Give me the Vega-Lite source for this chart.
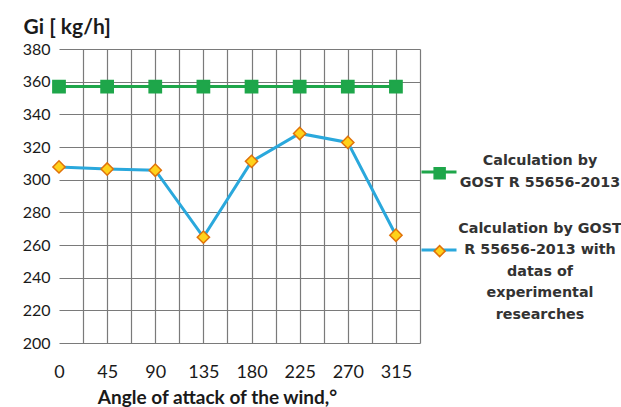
{
  "$schema": "https://vega.github.io/schema/vega-lite/v6.json",
  "width": 361,
  "height": 294,
  "autosize": {"type": "none"},
  "padding": {"left": 59, "top": 49, "right": 201, "bottom": 64},
  "background": "white",
  "config": {"view": {"stroke": null}, "font": "Lato"},
  "data": {
    "values": [
      {"angle": 0, "series": "Calculation by GOST R 55656-2013", "marker": "Calculation by GOST R 55656-2013", "value": 357},
      {"angle": 45, "series": "Calculation by GOST R 55656-2013", "marker": "Calculation by GOST R 55656-2013", "value": 357},
      {"angle": 90, "series": "Calculation by GOST R 55656-2013", "marker": "Calculation by GOST R 55656-2013", "value": 357},
      {"angle": 135, "series": "Calculation by GOST R 55656-2013", "marker": "Calculation by GOST R 55656-2013", "value": 357},
      {"angle": 180, "series": "Calculation by GOST R 55656-2013", "marker": "Calculation by GOST R 55656-2013", "value": 357},
      {"angle": 225, "series": "Calculation by GOST R 55656-2013", "marker": "Calculation by GOST R 55656-2013", "value": 357},
      {"angle": 270, "series": "Calculation by GOST R 55656-2013", "marker": "Calculation by GOST R 55656-2013", "value": 357},
      {"angle": 315, "series": "Calculation by GOST R 55656-2013", "marker": "Calculation by GOST R 55656-2013", "value": 357},
      {"angle": 0, "series": "Calculation by GOST R 55656-2013 with datas of experimental researches", "marker": "Calculation by GOST R 55656-2013 with datas of experimental researches", "value": 307.8},
      {"angle": 45, "series": "Calculation by GOST R 55656-2013 with datas of experimental researches", "marker": "Calculation by GOST R 55656-2013 with datas of experimental researches", "value": 306.5},
      {"angle": 90, "series": "Calculation by GOST R 55656-2013 with datas of experimental researches", "marker": "Calculation by GOST R 55656-2013 with datas of experimental researches", "value": 305.8},
      {"angle": 135, "series": "Calculation by GOST R 55656-2013 with datas of experimental researches", "marker": "Calculation by GOST R 55656-2013 with datas of experimental researches", "value": 264.8},
      {"angle": 180, "series": "Calculation by GOST R 55656-2013 with datas of experimental researches", "marker": "Calculation by GOST R 55656-2013 with datas of experimental researches", "value": 311.2},
      {"angle": 225, "series": "Calculation by GOST R 55656-2013 with datas of experimental researches", "marker": "Calculation by GOST R 55656-2013 with datas of experimental researches", "value": 328.3},
      {"angle": 270, "series": "Calculation by GOST R 55656-2013 with datas of experimental researches", "marker": "Calculation by GOST R 55656-2013 with datas of experimental researches", "value": 322.8},
      {"angle": 315, "series": "Calculation by GOST R 55656-2013 with datas of experimental researches", "marker": "Calculation by GOST R 55656-2013 with datas of experimental researches", "value": 266}
    ]
  },
  "encoding": {
    "x": {
      "field": "angle",
      "type": "quantitative",
      "scale": {"domain": [0, 337.5], "nice": false, "zero": false},
      "axis": {
        "values": [0, 22.5, 45, 67.5, 90, 112.5, 135, 157.5, 180, 202.5, 225, 247.5, 270, 292.5, 315, 337.5],
        "labelExpr": "datum.value % 45 == 0 && datum.value <= 315 ? datum.label : ''",
        "title": "Angle of attack of the wind,°",
        "grid": true,
        "gridColor": {"condition": {"test": "datum.value == 0", "value": "transparent"}, "value": "#7a7a7a"},
        "gridWidth": 1.2,
        "domain": false,
        "ticks": false,
        "labelPadding": 20,
        "labelFontSize": 18,
        "labelColor": "#1a1a1a",
        "labelFlush": false,
        "labelOverlap": false,
        "titleFontSize": 19,
        "titleFontWeight": "bold",
        "titleColor": "#1a1a1a",
        "titleX": 158,
        "titleY": 60,
        "titleAlign": "center",
        "titleBaseline": "alphabetic"
      }
    },
    "y": {
      "field": "value",
      "type": "quantitative",
      "scale": {"domain": [200, 380], "nice": false, "zero": false},
      "axis": {
        "values": [200, 220, 240, 260, 280, 300, 320, 340, 360, 380],
        "grid": true,
        "gridColor": "#7a7a7a",
        "gridWidth": 1.2,
        "domain": false,
        "ticks": false,
        "labelPadding": 9,
        "labelFontSize": 16,
        "labelColor": "#1a1a1a",
        "title": "Gi [ kg/h]",
        "titleAngle": 0,
        "titleAlign": "left",
        "titleBaseline": "alphabetic",
        "titleX": -36,
        "titleY": -16,
        "titleFontSize": 21,
        "titleFontWeight": "bold",
        "titleColor": "#1a1a1a"
      }
    }
  },
  "layer": [
    {
      "mark": {"type": "line", "strokeWidth": 3},
      "encoding": {
        "color": {
          "field": "series",
          "type": "nominal",
          "scale": {
            "domain": ["Calculation by GOST R 55656-2013", "Calculation by GOST R 55656-2013 with datas of experimental researches"],
            "range": ["#1ea64a", "#2aa8dc"]
          },
          "legend": {
            "orient": "none", "legendX": 361, "legendY": 104, "title": null, "padding": 0,
            "symbolType": "stroke", "symbolSize": 1225, "symbolStrokeWidth": 3,
            "labelExpr": "length(datum.value) > 40 ? ['Calculation by  GOST', 'R 55656-2013 with', 'datas of', 'experimental', 'researches'] : ['Calculation by', 'GOST R 55656-2013']",
            "labelFont": "DejaVu Sans", "labelFontSize": 14.3, "labelFontWeight": "bold", "labelColor": "#333333",
            "labelAlign": "center", "labelOffset": 82, "labelLimit": 400, "rowPadding": 30,
            "encode": {"labels": {"update": {"lineHeight": {"value": 21.5}, "dy": {"signal": "length(datum.value) > 40 ? -21.5 : -10.75"}}}}
          }
        }
      }
    },
    {
      "mark": {"type": "point", "filled": true, "opacity": 1, "size": 150, "strokeWidth": 1.5},
      "encoding": {
        "shape": {
          "field": "marker", "type": "nominal",
          "scale": {"range": ["square", "diamond"]},
          "legend": {
            "orient": "none", "legendX": 361, "legendY": 117, "title": null, "padding": 0,
            "symbolSize": 120, "symbolOffset": 12.5, "symbolStrokeWidth": 1.5,
            "labelExpr": "length(datum.value) > 40 ? [' ', ' ', ' ', ' ', ' '] : [' ', ' ']",
            "labelFont": "DejaVu Sans", "labelFontSize": 14.3, "labelFontWeight": "bold", "labelColor": "transparent",
            "labelAlign": "center", "labelOffset": 82, "labelLimit": 400, "rowPadding": 45,
            "encode": {
              "labels": {"update": {"lineHeight": {"value": 21.5}, "dy": {"signal": "length(datum.value) > 40 ? -21.5 : -10.75"}}}
            }
          }
        },
        "fill": {
          "field": "marker", "type": "nominal",
          "scale": {"range": ["#1ea64a", "#ffd21a"]},
          "legend": {"orient": "none", "legendX": 361, "legendY": 117, "title": null}
        },
        "stroke": {
          "field": "marker", "type": "nominal",
          "scale": {"range": ["#1ea64a", "#e0720a"]},
          "legend": {"orient": "none", "legendX": 361, "legendY": 117, "title": null}
        }
      }
    }
  ]
}
